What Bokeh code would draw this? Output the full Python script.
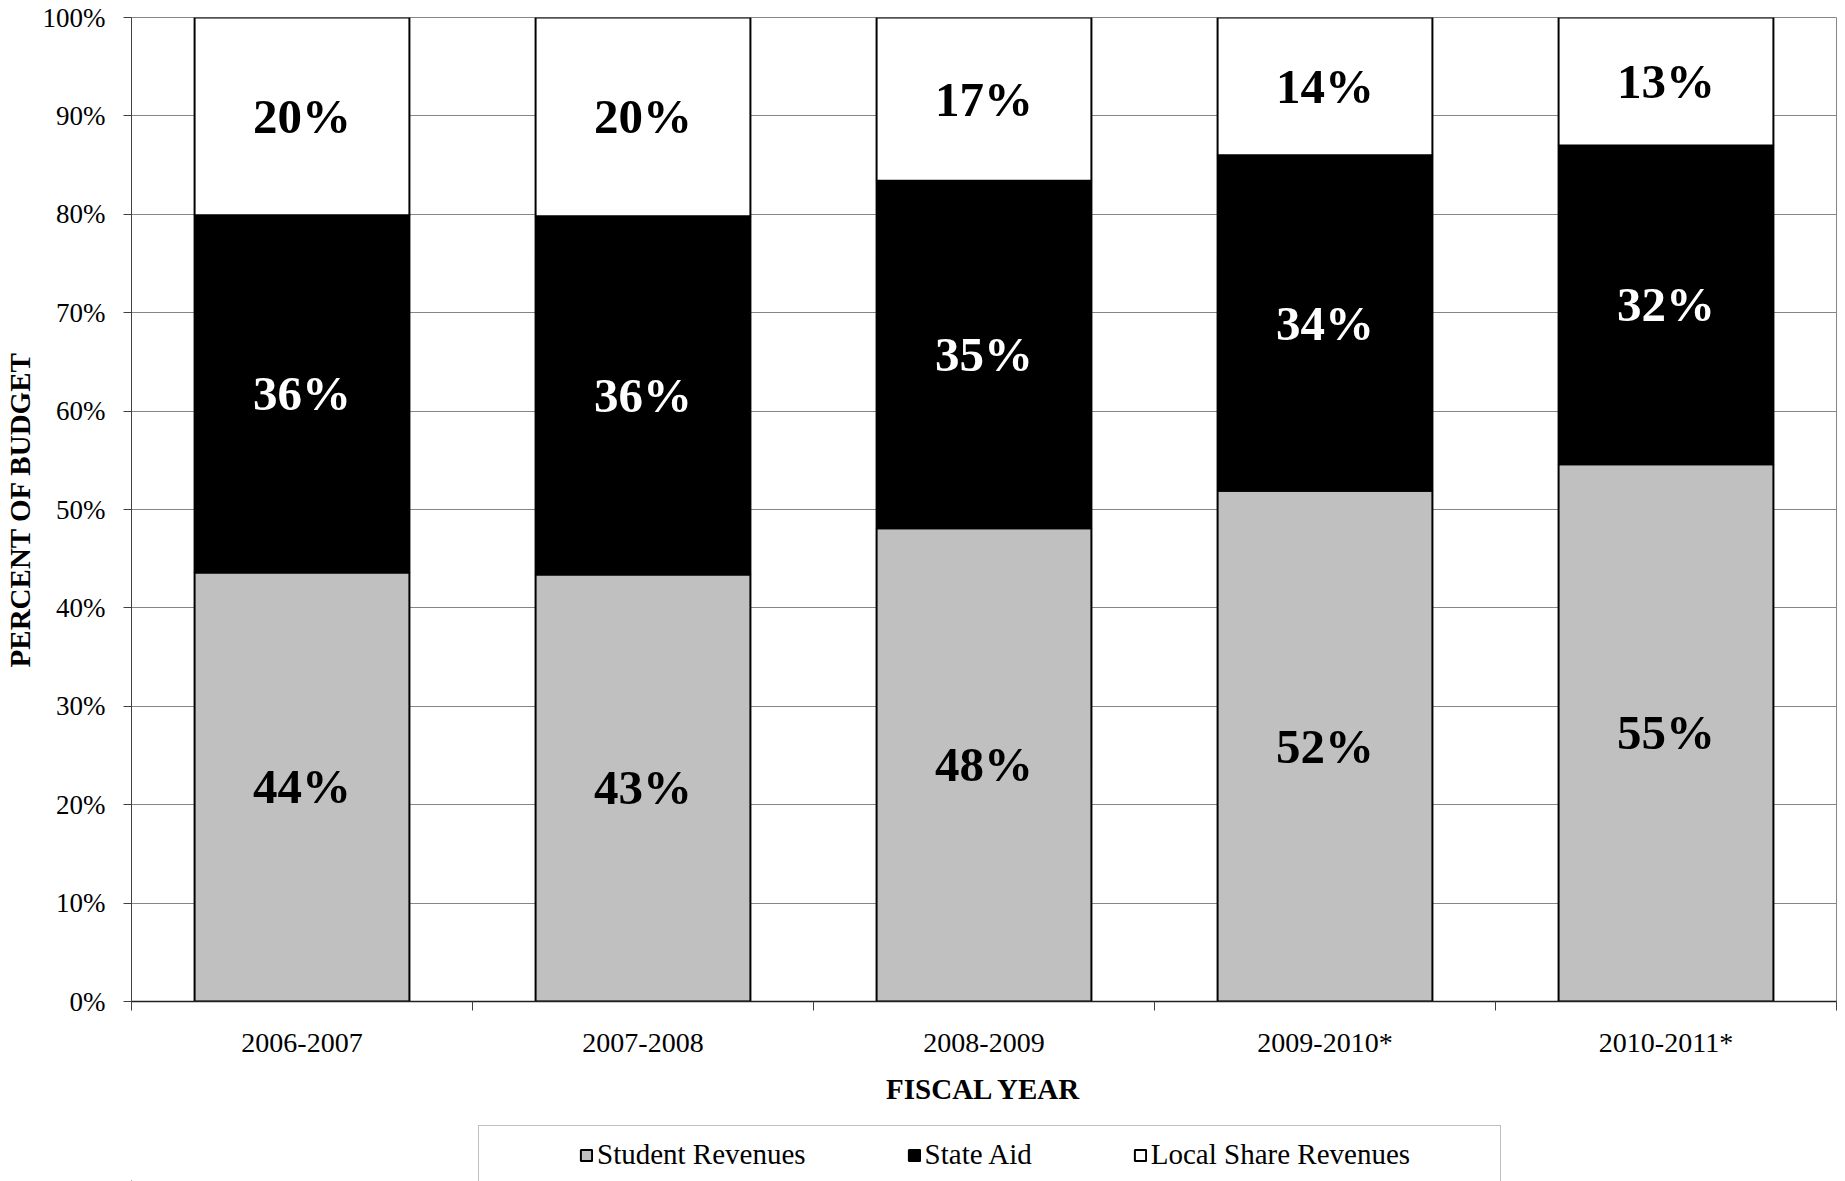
from bokeh.plotting import figure
from bokeh.layouts import column
from bokeh.models import (ColumnDataSource, Range1d, FixedTicker, PrintfTickFormatter,
                          Legend, LegendItem)
from bokeh.core.properties import value
from bokeh.embed import file_html
from bokeh.resources import INLINE

years = ["2006-2007", "2007-2008", "2008-2009", "2009-2010*", "2010-2011*"]
student = [43.6, 43.4, 48.1, 51.9, 54.6]
state_aid = [36.3, 36.4, 35.3, 34.1, 32.4]
local_share = [20.1, 20.2, 16.6, 14.0, 13.0]
series_names = ["Student Revenues", "State Aid", "Local Share Revenues"]
series_colors = ["#C0C0C0", "black", "white"]
y_ticks = [0, 10, 20, 30, 40, 50, 60, 70, 80, 90, 100]

FONT = "Liberation Serif"

xs = [i + 0.5 for i in range(len(years))]
s_top = student
a_top = [a + b for a, b in zip(student, state_aid)]
l_top = [a + b for a, b in zip(a_top, local_share)]

src = ColumnDataSource(dict(
    x=xs, year=years,
    s_bot=[0] * len(xs), s_top=s_top,
    a_bot=s_top, a_top=a_top,
    l_bot=a_top, l_top=l_top,
    s_mid=[v / 2 for v in student],
    a_mid=[s + v / 2 for s, v in zip(student, state_aid)],
    l_mid=[a + v / 2 for a, v in zip(a_top, local_share)],
    s_lab=[f"{round(v)}%" for v in student],
    a_lab=[f"{round(v)}%" for v in state_aid],
    l_lab=[f"{round(v)}%" for v in local_share],
))

p = figure(width=1845, height=1111, output_backend="svg", toolbar_location=None,
           x_range=Range1d(0, len(years)), y_range=Range1d(0, 100),
           frame_width=1705, frame_height=984,
           min_border_left=130, min_border_top=17, min_border_right=10, min_border_bottom=110)
p.background_fill_color = "white"
p.outline_line_color = "#868686"
p.outline_line_width = 1

BAR_W = 0.63
p.vbar(x="x", bottom="s_bot", top="s_top", width=BAR_W, source=src,
       fill_color=series_colors[0], line_color="black", line_width=2)
p.vbar(x="x", bottom="a_bot", top="a_top", width=BAR_W, source=src,
       fill_color=series_colors[1], line_color="black", line_width=2)
p.vbar(x="x", bottom="l_bot", top="l_top", width=BAR_W, source=src,
       fill_color=series_colors[2], line_color="black", line_width=2)

lab_kw = dict(text_font=value(FONT), text_font_style="bold", text_font_size="49px",
              text_align="center", text_baseline="middle", source=src)
p.text(x="x", y="s_mid", text="s_lab", text_color="black", **lab_kw)
p.text(x="x", y="a_mid", text="a_lab", text_color="white", **lab_kw)
p.text(x="x", y="l_mid", text="l_lab", text_color="black", **lab_kw)

# grid
p.xgrid.grid_line_color = None
p.ygrid.grid_line_color = "#868686"
p.ygrid.grid_line_width = 1

# y axis
p.yaxis.ticker = FixedTicker(ticks=y_ticks)
p.yaxis.formatter = PrintfTickFormatter(format="%d%%")
p.yaxis.major_label_text_font = FONT
p.yaxis.major_label_text_font_size = "27px"
p.yaxis.major_label_text_color = "black"
p.yaxis.major_tick_out = 8
p.yaxis.major_tick_in = 0
p.yaxis.minor_tick_line_color = None
p.yaxis.major_tick_line_color = "#404040"
p.yaxis.axis_line_color = "#404040"
p.yaxis.major_label_standoff = 18
p.yaxis.axis_label = "PERCENT OF BUDGET"
p.yaxis.axis_label_text_font = FONT
p.yaxis.axis_label_text_font_style = "bold"
p.yaxis.axis_label_text_font_size = "29px"
p.yaxis.axis_label_text_color = "black"
p.yaxis.axis_label_standoff = 4

# x axis: labels at centres, ticks at category boundaries
p.xaxis.ticker = FixedTicker(ticks=xs, minor_ticks=list(range(len(years) + 1)))
p.xaxis.major_label_overrides = {x: y for x, y in zip(xs, years)}
p.xaxis.major_label_text_font = FONT
p.xaxis.major_label_text_font_size = "28px"
p.xaxis.major_label_text_color = "black"
p.xaxis.major_tick_out = 9
p.xaxis.major_tick_in = 0
p.xaxis.major_tick_line_color = None
p.xaxis.minor_tick_out = 9
p.xaxis.minor_tick_in = 0
p.xaxis.minor_tick_line_color = "#404040"
p.xaxis.axis_line_color = "#202020"
p.xaxis.axis_line_width = 1.5
p.xaxis.major_label_standoff = 16
p.xaxis.axis_label = "FISCAL YEAR"
p.xaxis.axis_label_text_font = FONT
p.xaxis.axis_label_text_font_style = "bold"
p.xaxis.axis_label_text_font_size = "29px"
p.xaxis.axis_label_text_color = "black"
p.xaxis.axis_label_standoff = 12

# ---- legend strip below the chart ----
p2 = figure(width=1845, height=70, output_backend="svg", toolbar_location=None,
            x_range=Range1d(0, 1), y_range=Range1d(0, 1),
            x_axis_location=None, y_axis_location=None, min_border=0)
p2.outline_line_color = None
p2.grid.grid_line_color = None
p2.background_fill_color = "white"

# legend proxies: one off-range row each, so the legend swatches are drawn
proxy = ColumnDataSource(dict(x=[-1], top=[0]))
swatches = [p2.vbar(x="x", top="top", width=0.1, source=proxy,
                    fill_color=c, line_color="black", line_width=2) for c in series_colors]
spacer = p2.vbar(x="x", top="top", width=0.1, source=proxy, fill_alpha=0, line_alpha=0)

box_legend = Legend(items=[LegendItem(label=".", renderers=[spacer])],
                    location=(347, -1), orientation="horizontal",
                    label_text_font=FONT, label_text_font_size="29px", label_text_alpha=0,
                    glyph_width=14, glyph_height=14, label_standoff=4, label_width=981,
                    padding=11, margin=0, border_line_color="#7f7f7f", border_line_width=1,
                    background_fill_color="white", background_fill_alpha=1)
p2.add_layout(box_legend)

legend = Legend(items=[LegendItem(label=n, renderers=[r]) for n, r in zip(series_names, swatches)],
                location=(437, -1), orientation="horizontal",
                label_text_font=FONT, label_text_font_size="29px", label_text_color="black",
                glyph_width=14, glyph_height=14, label_standoff=4, label_width=0, spacing=101,
                padding=11, margin=0, border_line_alpha=0, background_fill_alpha=0)
p2.add_layout(legend)

layout = column(p, p2, spacing=0)
open("out.html", "w").write(file_html(layout, INLINE))
